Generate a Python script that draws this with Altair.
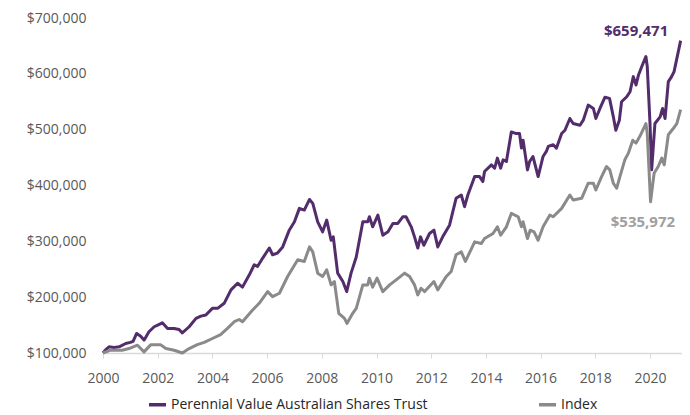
import altair as alt
import pandas as pd

FUND = "Perennial Value Australian Shares Trust"
INDEX = "Index"

fund_t = [2000.00, 2000.10, 2000.22, 2000.40, 2000.59, 2000.83, 2001.00, 2001.10, 2001.23, 2001.38,
          2001.50, 2001.68, 2001.87, 2002.00, 2002.17, 2002.36, 2002.60, 2002.78, 2002.90, 2003.15,
          2003.40, 2003.58, 2003.76, 2004.00, 2004.19, 2004.43, 2004.68, 2004.92, 2005.10, 2005.35,
          2005.53, 2005.65, 2005.84, 2006.08, 2006.20, 2006.38, 2006.57, 2006.81, 2007.00, 2007.18,
          2007.36, 2007.55, 2007.67, 2007.85, 2008.03, 2008.18, 2008.34, 2008.42, 2008.58, 2008.77,
          2008.91, 2009.07, 2009.26, 2009.50, 2009.68, 2009.74, 2009.86, 2010.05, 2010.23, 2010.42,
          2010.60, 2010.78, 2010.96, 2011.08, 2011.27, 2011.39, 2011.51, 2011.61, 2011.73, 2011.94,
          2012.10, 2012.24, 2012.42, 2012.67, 2012.91, 2013.10, 2013.22, 2013.34, 2013.59, 2013.77,
          2013.89, 2013.95, 2014.20, 2014.32, 2014.42, 2014.54, 2014.63, 2014.75, 2014.93, 2015.11,
          2015.23, 2015.30, 2015.36, 2015.52, 2015.60, 2015.72, 2015.91, 2016.09, 2016.21, 2016.28,
          2016.46, 2016.58, 2016.77, 2016.89, 2017.07, 2017.19, 2017.44, 2017.56, 2017.74, 2017.93,
          2018.02, 2018.17, 2018.35, 2018.52, 2018.66, 2018.75, 2018.88, 2018.96, 2019.15, 2019.27,
          2019.39, 2019.49, 2019.58, 2019.70, 2019.85, 2019.90, 2020.00, 2020.06, 2020.18, 2020.37,
          2020.46, 2020.55, 2020.67, 2020.79, 2020.88, 2021.12]
fund_v = [100000, 106000, 111000, 110000, 111000, 117000, 119000, 121000, 135000, 130000,
          123000, 138000, 147000, 150000, 154000, 144000, 144000, 142000, 136000, 147000,
          162000, 166000, 168000, 180000, 180000, 189000, 213000, 225000, 218000, 240000,
          258000, 255000, 270000, 288000, 276000, 279000, 290000, 320000, 335000, 359000,
          356000, 375000, 368000, 335000, 317000, 338000, 302000, 308000, 243000, 228000,
          210000, 243000, 272000, 335000, 335000, 344000, 326000, 347000, 311000, 317000,
          332000, 332000, 344000, 344000, 326000, 308000, 288000, 308000, 293000, 314000,
          320000, 290000, 308000, 329000, 377000, 383000, 362000, 383000, 416000, 416000,
          407000, 425000, 437000, 431000, 449000, 431000, 446000, 443000, 496000, 493000,
          493000, 467000, 481000, 428000, 443000, 452000, 416000, 452000, 461000, 470000,
          473000, 467000, 493000, 499000, 520000, 511000, 508000, 517000, 544000, 538000,
          520000, 538000, 558000, 556000, 523000, 499000, 517000, 550000, 559000, 568000,
          595000, 580000, 598000, 613000, 631000, 613000, 511000, 428000, 511000, 523000,
          538000, 520000, 586000, 595000, 604000, 659471]

index_t = [2000.00, 2000.28, 2000.70, 2000.95, 2001.26, 2001.50, 2001.75, 2002.10, 2002.30, 2002.60,
           2002.90, 2003.15, 2003.45, 2003.70, 2004.00, 2004.30, 2004.55, 2004.80, 2004.98, 2005.10,
           2005.47, 2005.71, 2006.02, 2006.20, 2006.45, 2006.75, 2007.12, 2007.36, 2007.55, 2007.67,
           2007.85, 2008.03, 2008.18, 2008.34, 2008.46, 2008.62, 2008.83, 2008.92, 2009.13, 2009.26,
           2009.50, 2009.68, 2009.74, 2009.86, 2010.02, 2010.23, 2010.48, 2010.72, 2011.03, 2011.21,
           2011.39, 2011.51, 2011.63, 2011.76, 2012.10, 2012.24, 2012.55, 2012.73, 2012.91, 2013.10,
           2013.25, 2013.59, 2013.83, 2013.95, 2014.26, 2014.42, 2014.54, 2014.75, 2014.93, 2015.18,
           2015.30, 2015.36, 2015.52, 2015.62, 2015.76, 2015.91, 2016.09, 2016.34, 2016.46, 2016.77,
           2017.07, 2017.19, 2017.50, 2017.74, 2017.93, 2018.02, 2018.23, 2018.41, 2018.53, 2018.66,
           2018.78, 2018.90, 2019.08, 2019.21, 2019.37, 2019.49, 2019.63, 2019.85, 2019.90, 2020.02,
           2020.15, 2020.30, 2020.43, 2020.52, 2020.67, 2020.85, 2020.98, 2021.12]
index_v = [100000, 105000, 105000, 108000, 114000, 102000, 115000, 115000, 108000, 105000,
           100000, 108000, 115000, 119000, 126000, 133000, 144000, 156000, 160000, 156000,
           177000, 189000, 210000, 201000, 207000, 237000, 267000, 264000, 290000, 281000,
           243000, 237000, 249000, 222000, 228000, 171000, 162000, 153000, 171000, 180000,
           222000, 222000, 234000, 218000, 234000, 210000, 222000, 231000, 243000, 237000,
           222000, 204000, 216000, 210000, 228000, 213000, 237000, 246000, 276000, 281000,
           264000, 299000, 296000, 305000, 314000, 326000, 311000, 326000, 350000, 344000,
           326000, 335000, 305000, 320000, 317000, 302000, 326000, 347000, 344000, 359000,
           383000, 374000, 377000, 404000, 404000, 392000, 416000, 434000, 428000, 404000,
           395000, 416000, 446000, 458000, 481000, 476000, 488000, 511000, 493000, 371000,
           422000, 434000, 449000, 437000, 491000, 502000, 511000, 535972]

end_labels = ["$659,471", "$535,972"]
label_t = [2019.49, 2019.74]
label_v = [677000, 335000]

PURPLE = "#532C6C"
GREY = "#8A8A8A"
FONT = "Open Sans"

df = pd.concat([
    pd.DataFrame({"t": fund_t, "v": fund_v, "series": FUND}),
    pd.DataFrame({"t": index_t, "v": index_v, "series": INDEX}),
])
lab = pd.DataFrame({"t": label_t, "v": label_v, "txt": end_labels, "series": [FUND, INDEX]})

xscale = alt.Scale(domain=[2000, 2021.17], nice=False, zero=False)
yscale = alt.Scale(domain=[100000, 700000], nice=False, zero=False)

lines = alt.Chart(df).mark_line(strokeWidth=3, strokeJoin="round").encode(
    x=alt.X("t:Q", scale=xscale, title=None,
            axis=alt.Axis(values=list(range(2000, 2021, 2)), format="d", grid=False,
                          labelFlush=False, labelOverlap=False,
                          domainColor="#D9D9D9", domainWidth=1.5, tickColor="#D9D9D9",
                          tickSize=5, labelPadding=13, labelFont=FONT, labelFontSize=14,
                          labelColor="#595959")),
    y=alt.Y("v:Q", scale=yscale, title=None,
            axis=alt.Axis(values=list(range(100000, 700001, 100000)), format="$,.0f",
                          grid=False, domain=False, ticks=False, labelPadding=17,
                          labelFlush=False, labelOverlap=False,
                          labelFont=FONT, labelFontSize=14, labelColor="#595959")),
    color=alt.Color("series:N",
                    scale=alt.Scale(domain=[FUND, INDEX], range=[PURPLE, GREY]),
                    legend=alt.Legend(title=None, orient="none", direction="horizontal",
                                      legendX=44, legendY=376, symbolType="stroke",
                                      symbolSize=289, symbolStrokeWidth=3.5,
                                      labelFont=FONT, labelFontSize=14, labelColor="#262626",
                                      labelOffset=3, columnPadding=104, padding=0,
                                      labelLimit=400)),
    order="t:Q",
)

texts = alt.Chart(lab).mark_text(font=FONT, fontSize=15, fontWeight="bold").encode(
    x="t:Q", y="v:Q", text="txt:N",
    color=alt.Color("series:N", scale=alt.Scale(domain=[FUND, INDEX], range=["#532C6C", "#A0A0A0"]),
                    legend=None),
)

chart = alt.layer(lines, texts).resolve_scale(color="independent").properties(
    width=579, height=335,
    autosize=alt.AutoSizeParams(type="none"),
    padding={"left": 95, "top": 10, "right": 0, "bottom": 62},
).configure_view(stroke=None)

chart.save("out.html", embed_options={"renderer": "svg", "actions": False})
